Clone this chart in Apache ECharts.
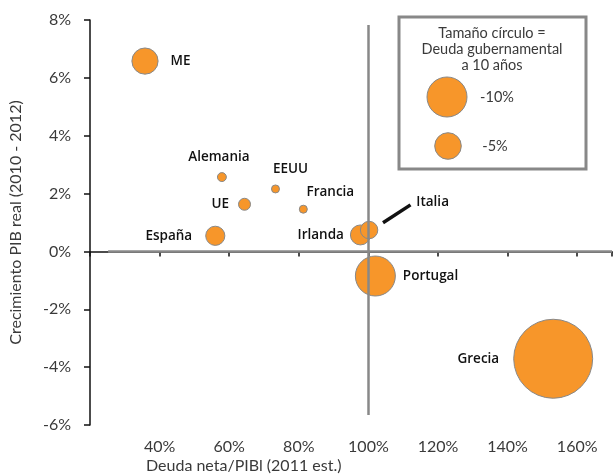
<!DOCTYPE html>
<html>
<head>
<meta charset="utf-8">
<script src="https://cdn.jsdelivr.net/npm/echarts@6/dist/echarts.min.js"></script>
<style>
  html, body { margin: 0; padding: 0; background: #fff; }
  #main { width: 615px; height: 476px; }
</style>
</head>
<body>
<div id="main"></div>
<script>
// data
var countries = ['ME', 'Alemania', 'EEUU', 'UE', 'Francia', 'España', 'Irlanda', 'Italia', 'Portugal', 'Grecia']
var deudaNeta = [35.8, 57.9, 73.3, 64.4, 81.3, 56.0, 97.7, 100.2, 102.0, 153.1]   // x, % PIB
var crecimiento = [6.58, 2.57, 2.16, 1.63, 1.46, 0.54, 0.57, 0.74, -0.85, -3.71]  // y, %
var deuda10y = [-4.3, -0.5, -0.4, -0.9, -0.4, -2.3, -2.5, -1.9, -10, -39]          // bubble size, %
var xTicks = [40, 60, 80, 100, 120, 140, 160]

var FONT = 'Lato'
var ORANGE = '#F7962A'
var TXT = '#3a3a3a'

function bubble (v) {
  return 40 * Math.sqrt(Math.abs(v) / 10)
}

// label placement per point
var labelPos = {
  'ME': { position: 'right', distance: 12 },
  'Alemania': { position: 'top', distance: 8, offset: [-3, 0] },
  'EEUU': { position: 'top', distance: 8, offset: [15, 0] },
  'UE': { position: 'left', distance: 9 },
  'Francia': { position: 'top', distance: 6, offset: [27, 0] },
  'España': { position: 'left', distance: 13 },
  'Irlanda': { position: 'left', distance: 6 },
  'Italia': { position: 'right', distance: 38, offset: [0, -28] },
  'Portugal': { position: 'right', distance: 7 },
  'Grecia': { position: 'left', distance: 14 }
}

var points = countries.map(function (c, i) {
  var lp = labelPos[c]
  return {
    name: c,
    value: [deudaNeta[i], crecimiento[i], deuda10y[i]],
    label: { position: lp.position, distance: lp.distance, offset: lp.offset || [0, 0] }
  }
})

var myChart = echarts.init(document.getElementById('main'))

myChart.setOption({
  animation: false,
  grid: { left: 89, right: 3, top: 20, bottom: 51 },
  xAxis: {
    type: 'value',
    min: 20,
    max: 170,
    interval: 20,
    splitLine: { show: false },
    axisLine: { lineStyle: { color: '#111', width: 1.5 } },
    axisTick: { show: true, length: 5, lineStyle: { color: '#111', width: 1.5 } },
    axisLabel: {
      margin: 14,
      color: TXT,
      fontSize: 16,
      fontFamily: FONT,
      fontWeight: 400,
      formatter: function (v) { return xTicks.indexOf(v) >= 0 ? v + '%' : '' }
    }
  },
  yAxis: {
    type: 'value',
    min: -6,
    max: 8,
    interval: 2,
    splitLine: { show: false },
    axisLine: { onZero: false, lineStyle: { color: '#111', width: 1.5 } },
    axisTick: { show: true, length: 6, lineStyle: { color: '#111', width: 1.5 } },
    axisLabel: {
      margin: 19,
      color: TXT,
      fontSize: 16,
      fontFamily: FONT,
      fontWeight: 400,
      formatter: '{value}%'
    },
    name: 'Crecimiento PIB real (2010 - 2012)',
    nameLocation: 'middle',
    nameGap: 66,
    nameTextStyle: { color: TXT, fontSize: 16, fontFamily: FONT, fontWeight: 400 }
  },
  graphic: [
    {
      type: 'text',
      left: 146,
      top: 458,
      style: { text: 'Deuda neta/PIBl (2011 est.)', fill: TXT, font: '400 16px Lato' }
    },
    {
      type: 'rect',
      shape: { x: 399, y: 17, width: 187, height: 152 },
      style: { fill: '#fff', stroke: '#888', lineWidth: 3 }
    },
    {
      type: 'text',
      x: 492,
      y: 25,
      style: {
        text: 'Tamaño círculo =\nDeuda gubernamental\na 10 años',
        fill: TXT,
        font: '400 14.5px Lato',
        align: 'center',
        lineHeight: 16
      }
    },
    {
      type: 'circle',
      shape: { cx: 447, cy: 97, r: 20 },
      style: { fill: ORANGE, stroke: '#888', lineWidth: 1 }
    },
    {
      type: 'text',
      x: 497,
      y: 97,
      style: { text: '-10%', fill: TXT, font: '400 14.5px Lato', align: 'center', verticalAlign: 'middle' }
    },
    {
      type: 'circle',
      shape: { cx: 448, cy: 146, r: 13.3 },
      style: { fill: ORANGE, stroke: '#888', lineWidth: 1 }
    },
    {
      type: 'text',
      x: 495,
      y: 146,
      style: { text: '-5%', fill: TXT, font: '400 14.5px Lato', align: 'center', verticalAlign: 'middle' }
    }
  ],
  series: [
    {
      // crosshair at 0% growth / 100% debt
      type: 'scatter',
      data: [],
      z: 1,
      silent: true,
      markLine: {
        silent: true,
        symbol: 'none',
        label: { show: false },
        lineStyle: { color: '#888', width: 2.5, type: 'solid' },
        data: [
          [{ coord: [25.2, 0] }, { coord: [170, 0] }],
          [{ coord: [100, 7.83] }, { coord: [100, -5.65] }]
        ]
      }
    },
    {
      type: 'scatter',
      z: 3,
      data: points,
      symbolSize: function (val) { return bubble(val[2]) },
      itemStyle: { color: ORANGE, borderColor: '#888', borderWidth: 1, opacity: 1 },
      label: {
        show: true,
        formatter: '{b}',
        color: '#111',
        fontSize: 13.5,
        fontFamily: 'Open Sans',
        fontWeight: 600
      },
      markLine: {
        silent: true,
        symbol: 'none',
        label: { show: false },
        lineStyle: { color: '#111', width: 3.5, type: 'solid' },
        data: [
          [{ coord: [104.2, 0.99] }, { coord: [112.1, 1.61] }]
        ]
      }
    }
  ]
})
</script>
</body>
</html>
